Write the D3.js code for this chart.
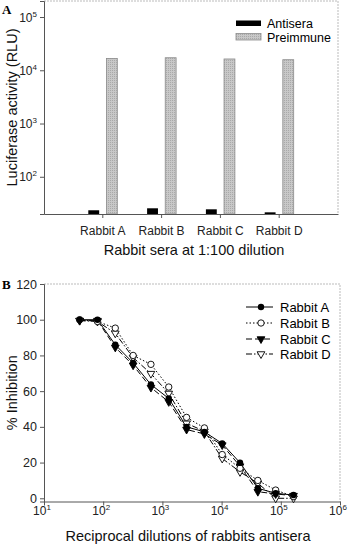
<!DOCTYPE html>
<html><head><meta charset="utf-8">
<script src="https://cdn.jsdelivr.net/npm/d3@7"></script>
<style>
html,body{margin:0;padding:0;background:#fff;}
svg{display:block;font-family:"Liberation Sans",Arial,sans-serif;}
</style></head>
<body><svg id="c" width="350" height="546"></svg>
<script>
// ---- Panel A data ----
const categories = ["Rabbit A","Rabbit B","Rabbit C","Rabbit D"];
const seriesA = ["Antisera","Preimmune"];
const antisera = [23.5, 25.6, 24.5, 21.5];
const preimmune = [16700, 17200, 16300, 15800];
const yTicksA = [100, 1000, 10000, 100000];
const yExpA = ["2","3","4","5"];

// ---- Panel B data ----
const dilutions = [40,80,160,320,640,1280,2560,5120,10240,20480,40960,81920,163840];
const rabbitA = [100,100,86,75.8,63.7,55.9,40,37.2,30.7,19.9,5.6,2.8,1.8];
const rabbitB = [100,99,95.3,80,75,62.3,45.3,39.4,24.5,16.8,10,4.6,1];
const rabbitC = [99.5,99.5,84.5,74.5,62,54,38.5,36,29.8,18,3.7,2.4,1.5];
const rabbitD = [99.5,99,92.4,78.8,69.8,58.7,42,37.5,22.3,14.8,8.4,0,0];
const seriesB = ["Rabbit A","Rabbit B","Rabbit C","Rabbit D"];
const yTicksB = [0,20,40,60,80,100,120];
const xTicksB = [10,100,1000,10000,100000,1000000];
const xExpB = ["1","2","3","4","5","6"];

const svg = d3.select("#c");
const FONT = '"Liberation Sans",Arial,sans-serif';

// ================= PANEL A =================
const A = {l:44, r:338, t:1, b:214};
const xA = d3.scaleBand().domain(categories).range([A.l, A.r]).paddingInner(0).paddingOuter(0.5);
const xA1 = d3.scaleBand().domain(seriesA).range([-14.5, 14.5]).paddingInner(0.4);
const yA = d3.scaleLog().domain([20, 200000]).range([A.b, A.t]);

const defs = svg.append("defs");
const pat = defs.append("pattern").attr("id","hatch").attr("width",2).attr("height",2).attr("patternUnits","userSpaceOnUse");
pat.append("rect").attr("width",2).attr("height",2).attr("fill","#c8c8c8");
pat.append("rect").attr("width",1).attr("height",1).attr("fill","#a9a9a9");

// frame (light)
svg.append("path").attr("d",`M${A.l},${A.t}H${A.r}V${A.b}`).attr("fill","none").attr("stroke","#bbb").attr("stroke-width",1).attr("stroke-dasharray","2,1");

const gA = svg.append("g");
categories.forEach((c,i)=>{
  const cx = xA(c) + xA.bandwidth()/2;
  gA.append("rect").attr("x", cx + xA1("Antisera")).attr("width", xA1.bandwidth())
    .attr("y", yA(antisera[i])).attr("height", A.b - yA(antisera[i])).attr("fill","#000");
  gA.append("rect").attr("x", cx + xA1("Preimmune")).attr("width", xA1.bandwidth())
    .attr("y", yA(preimmune[i])).attr("height", A.b - yA(preimmune[i])).attr("fill","url(#hatch)")
    .attr("stroke","#8a8a8a").attr("stroke-width",0.8);
});

// axes A
const axL = svg.append("g").attr("transform",`translate(${A.l},0)`)
  .call(d3.axisLeft(yA).tickValues(yTicksA).tickSize(4).tickFormat(""));
axL.select(".domain").attr("stroke","#555");
axL.selectAll(".tick line").attr("stroke","#555");
yTicksA.forEach((v,i)=>{
  const t = svg.append("text").attr("x", A.l-7).attr("y", yA(v)+4.5).attr("text-anchor","end")
    .attr("font-size",12).attr("fill","#222");
  t.append("tspan").text("10");
  t.append("tspan").attr("dy",-5).attr("font-size",8).text(yExpA[i]);
});
const axB = svg.append("g").attr("transform",`translate(0,${A.b})`)
  .call(d3.axisBottom(xA).tickSize(4).tickSizeOuter(0).tickPadding(6));
axB.select(".domain").attr("stroke","#555");
axB.selectAll(".tick line").attr("stroke","#555");
axB.selectAll(".tick text").attr("font-family",FONT).attr("font-size",12).attr("fill","#222").attr("dy","0.9em");

svg.append("text").attr("x",(A.l+A.r)/2+3).attr("y",255).attr("text-anchor","middle")
  .attr("font-size",14.5).attr("fill","#111").text("Rabbit sera at 1:100 dilution");
svg.append("text").attr("transform",`translate(17,${(A.t+A.b)/2}) rotate(-90)`).attr("text-anchor","middle")
  .attr("font-size",14.5).attr("fill","#111").text("Luciferase activity (RLU)");
svg.append("text").attr("x",2).attr("y",14).attr("font-family","'Liberation Serif','Times New Roman',serif")
  .attr("font-weight","bold").attr("font-size",13).text("A");

// legend A
const legA = svg.append("g");
legA.append("rect").attr("x",236).attr("y",20.5).attr("width",25).attr("height",5.5).attr("fill","#000");
legA.append("rect").attr("x",236).attr("y",33.5).attr("width",25).attr("height",6.5).attr("fill","url(#hatch)").attr("stroke","#8a8a8a").attr("stroke-width",0.8);
legA.append("text").attr("x",267).attr("y",28).attr("font-size",12.5).text(seriesA[0]);
legA.append("text").attr("x",267).attr("y",42).attr("font-size",12.5).text(seriesA[1]);

// ================= PANEL B =================
const B = {l:44, r:340, t:284, b:501.5};
const xB = d3.scaleLog().domain([10, 1000000]).range([B.l, B.r]);
const yB = d3.scaleLinear().domain([-1.8, 120]).range([B.b, B.t]);

svg.append("path").attr("d",`M${B.l},${B.t}H${B.r}V${B.b}`).attr("fill","none").attr("stroke","#bbb").attr("stroke-width",1).attr("stroke-dasharray","2,1");

const bL = svg.append("g").attr("transform",`translate(${B.l},0)`)
  .call(d3.axisLeft(yB).tickValues(yTicksB).tickSize(4).tickPadding(3).tickFormat(d3.format("d")));
bL.select(".domain").attr("stroke","#555");
bL.selectAll(".tick line").attr("stroke","#555");
bL.selectAll(".tick text").attr("font-family",FONT).attr("font-size",12.5).attr("fill","#222");
const bB = svg.append("g").attr("transform",`translate(0,${B.b})`)
  .call(d3.axisBottom(xB).tickValues(xTicksB).tickSize(4).tickSizeOuter(0).tickFormat(""));
bB.select(".domain").attr("stroke","#555");
bB.selectAll(".tick line").attr("stroke","#555");
xTicksB.forEach((v,i)=>{
  const t = svg.append("text").attr("x", xB(v)-2).attr("y", 515).attr("text-anchor","middle")
    .attr("font-size",12).attr("fill","#222");
  t.append("tspan").text("10");
  t.append("tspan").attr("dy",-5).attr("font-size",8).text(xExpB[i]);
});
svg.append("text").attr("x",(B.l+B.r)/2-4).attr("y",541).attr("text-anchor","middle")
  .attr("font-size",14.5).attr("fill","#111").text("Reciprocal dilutions of rabbits antisera");
svg.append("text").attr("transform",`translate(17,${(B.t+B.b)/2}) rotate(-90)`).attr("text-anchor","middle")
  .attr("font-size",14.5).attr("fill","#111").text("% Inhibition");
svg.append("text").attr("x",2).attr("y",289).attr("font-family","'Liberation Serif','Times New Roman',serif")
  .attr("font-weight","bold").attr("font-size",13).text("B");

const dataB = [rabbitA, rabbitB, rabbitC, rabbitD];
const dashes = [null, "1.5,2", "6,3", "6,2,1.5,2"];
const tri = d3.symbol().type(d3.symbolTriangle).size(26);
function marker(g, k, x, y){
  if(k===0) g.append("circle").attr("cx",x).attr("cy",y).attr("r",3.2).attr("fill","#000");
  else if(k===1) g.append("circle").attr("cx",x).attr("cy",y).attr("r",3.2).attr("fill","#fff").attr("stroke","#000").attr("stroke-width",0.9);
  else g.append("path").attr("d",tri).attr("transform",`translate(${x},${y}) rotate(180)`)
       .attr("fill",k===2?"#000":"#fff").attr("stroke","#000").attr("stroke-width",0.9);
}
const line = d3.line().x((d,i)=>xB(dilutions[i])).y(d=>yB(d));
const gB = svg.append("g");
[3,2,1,0].forEach(k=>{
  gB.append("path").attr("d",line(dataB[k])).attr("fill","none").attr("stroke","#000")
    .attr("stroke-width",1).attr("stroke-dasharray",dashes[k]);
});
[3,2,1,0].forEach(k=>{
  dataB[k].forEach((v,i)=>marker(gB,k,xB(dilutions[i]),yB(v)));
});

// legend B
const legRows = [307,323,339,354];
seriesB.forEach((s,k)=>{
  const y = legRows[k];
  svg.append("line").attr("x1",246).attr("x2",273).attr("y1",y).attr("y2",y)
    .attr("stroke","#000").attr("stroke-width",1).attr("stroke-dasharray",dashes[k]);
  marker(svg,k,261,y);
  svg.append("text").attr("x",280).attr("y",y+4.5).attr("font-size",13).text(s);
});
</script></body></html>
